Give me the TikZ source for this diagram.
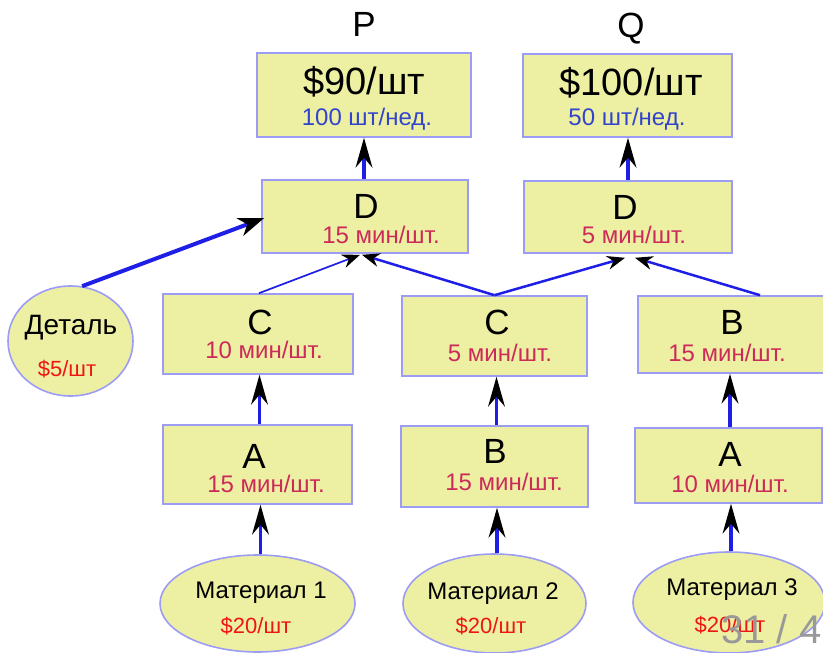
\documentclass[tikz,border=0pt]{standalone}
\usepackage{fontspec}
\setmainfont{Liberation Sans}
\usetikzlibrary{arrows.meta,shapes.geometric}

\definecolor{boxfill}{HTML}{EDF0A2}
\definecolor{boxedge}{HTML}{9C9CF5}
\definecolor{linkblue}{HTML}{1E1EE6}
\definecolor{rateblue}{HTML}{3344CC}
\definecolor{timered}{HTML}{CC2A5A}
\definecolor{costred}{HTML}{EE1515}
\definecolor{pagegray}{HTML}{999999}

\tikzset{
  stage/.style={draw=boxedge, fill=boxfill, line width=1.6pt, rectangle, inner sep=0pt},
  source/.style={draw=boxedge, fill=boxfill, line width=1.6pt, ellipse, inner sep=0pt},
  letter/.style={font=\fontsize{35}{38}\selectfont, anchor=base, inner sep=0pt},
  price/.style={font=\fontsize{38}{40}\selectfont, anchor=base, inner sep=0pt},
  small/.style={font=\fontsize{24}{26}\selectfont, anchor=base, inner sep=0pt},
  rate/.style={small, text=rateblue},
  time/.style={small, text=timered},
  cost/.style={font=\fontsize{22}{25}\selectfont, anchor=base, inner sep=0pt, text=costred},
  flow/.style={draw=linkblue, line width=3.5pt,
    -{Stealth[length=30pt, width=17pt, inset=10pt, color=black, line width=0pt]}},
  feed/.style={draw=linkblue, line width=2.5pt,
    -{Stealth[length=18pt, width=14pt, inset=6pt, color=black, line width=0pt]}},
}

\begin{document}
\begin{tikzpicture}[x=1pt, y=-1pt]
\useasboundingbox (0,0) rectangle (823,653);

% products
\node[letter, font=\fontsize{35}{38}\selectfont] (plabel) at (364,36) {P};
\node[letter, font=\fontsize{35}{38}\selectfont] (qlabel) at (631,37) {Q};

\node[stage, minimum width=214pt, minimum height=84pt] (p) at (364,95) {};
\node[price] (pprice) at (364,94) {\$90/шт};
\node[rate] (prate) at (367,125) {100 шт/нед.};

\node[stage, minimum width=209pt, minimum height=83pt] (q) at (627.5,95.5) {};
\node[price] (qprice) at (631,95) {\$100/шт};
\node[rate] (qrate) at (627,125) {50 шт/нед.};

% final assembly
\node[stage, minimum width=206pt, minimum height=73pt] (d1) at (365,216.5) {};
\node[letter] (d1name) at (366,218) {D};
\node[time] (d1time) at (381,243) {15 мин/шт.};

\node[stage, minimum width=208pt, minimum height=72pt] (d2) at (628,217) {};
\node[letter] (d2name) at (625,219) {D};
\node[time] (d2time) at (634,243) {5 мин/шт.};

% purchased part
\node[source, minimum width=125pt, minimum height=110pt] (det) at (70.5,341) {};
\node[font=\fontsize{28}{30}\selectfont, anchor=base, inner sep=0pt] (detname) at (71,334) {Деталь};
\node[cost] (detcost) at (67,376) {\$5/шт};

% second stage
\node[stage, minimum width=190pt, minimum height=80pt] (c1) at (258,334) {};
\node[letter] (c1name) at (260,334) {C};
\node[time] (c1time) at (264,358) {10 мин/шт.};

\node[stage, minimum width=185pt, minimum height=80pt] (c2) at (494.5,336) {};
\node[letter] (c2name) at (497,334) {C};
\node[time] (c2time) at (500,361) {5 мин/шт.};

\node[stage, minimum width=188pt, minimum height=77pt] (b3) at (732,334.5) {};
\node[letter] (b3name) at (732,334) {B};
\node[time] (b3time) at (727,361) {15 мин/шт.};

% first stage
\node[stage, minimum width=189pt, minimum height=79pt] (a1) at (257.5,464.5) {};
\node[letter] (a1name) at (254,468) {A};
\node[time] (a1time) at (266,492) {15 мин/шт.};

\node[stage, minimum width=187pt, minimum height=81pt] (b2) at (494.5,466.5) {};
\node[letter] (b2name) at (495,463) {B};
\node[time] (b2time) at (504,490) {15 мин/шт.};

\node[stage, minimum width=187pt, minimum height=75pt] (a3) at (728.5,465.5) {};
\node[letter] (a3name) at (730,466) {A};
\node[time] (a3time) at (730,492) {10 мин/шт.};

% raw materials
\node[source, minimum width=195pt, minimum height=97pt] (m1) at (257.5,603.5) {};
\node[small] (m1name) at (261,598) {Материал 1};
\node[cost] (m1cost) at (256,633) {\$20/шт};

\node[source, minimum width=183pt, minimum height=99pt] (m2) at (494.5,603.5) {};
\node[small] (m2name) at (493,599) {Материал 2};
\node[cost] (m2cost) at (491,633) {\$20/шт};

\node[source, minimum width=192pt, minimum height=101pt] (m3) at (729,602.5) {};
\node[small] (m3name) at (732,595) {Материал 3};
\node[cost] (m3cost) at (730,632) {\$20/шт};

% vertical flows
\draw[flow] ([xshift=3pt]m1.north) -- ([xshift=3pt]m1.north |- a1.south);
\draw[flow] ([xshift=2pt]a1.north) -- ([xshift=2pt]a1.north |- c1.south);
\draw[flow] ([xshift=2.5pt]m2.north) -- ([xshift=2.5pt]m2.north |- b2.south);
\draw[flow] ([xshift=2pt]b2.north) -- ([xshift=2pt]b2.north |- c2.south);
\draw[flow] ([xshift=2pt]m3.north) -- ([xshift=2pt]m3.north |- a3.south);
\draw[flow] ([xshift=1.5pt]a3.north) -- ([xshift=1.5pt]a3.north |- b3.south);
\draw[flow] ([xshift=-1pt]d1.north) -- ([xshift=-1pt]d1.north |- p.south);
\draw[flow] (d2.north) -- (d2.north |- q.south);

% assembly feeds
\draw[feed, line width=1.7pt] ([xshift=1pt]c1.north) -- ([xshift=-5pt,yshift=-1pt]d1.south);
\draw[feed] (c2.north) -- ([xshift=-3pt,yshift=-1pt]d1.south);
\draw[feed] (c2.north) -- ([xshift=-3pt,yshift=-4pt]d2.south);
\draw[feed] ([xshift=28pt]b3.north) -- ([xshift=7pt,yshift=-4pt]d2.south);
\draw[draw=linkblue, line width=4pt,
  -{Stealth[length=26pt, width=19pt, inset=8pt, color=black, line width=0pt]}]
  (det.78) -- ([xshift=3pt,yshift=-1.5pt]d1.west);

% slide number
\node[font=\fontsize{40}{42}\selectfont, text=pagegray, anchor=base west, inner sep=0pt]
  (pageno) at (721,643) {31 / 4};
\end{tikzpicture}
\end{document}
